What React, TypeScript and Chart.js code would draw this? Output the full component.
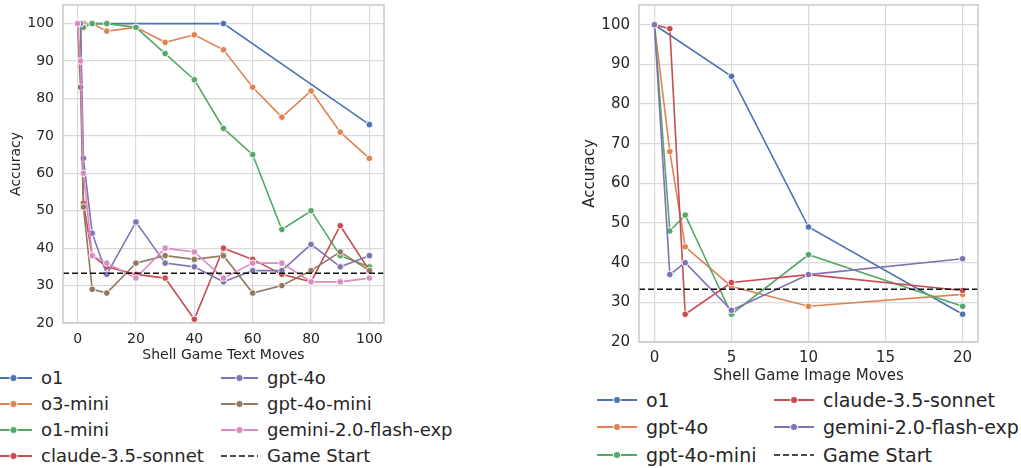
import { useEffect, useRef } from 'react';
import { Chart, registerables } from 'chart.js';

Chart.register(...registerables);

const FONT = '"DejaVu Sans", "Liberation Sans", sans-serif';
const INK = '#262626';
const GRID = '#d9d9d9';
const FRAME = '#cccccc';

const BLUE = '#4c72b0';
const ORANGE = '#dd8452';
const GREEN = '#55a868';
const RED = '#c44e52';
const PURPLE = '#8172b3';
const BROWN = '#937860';
const PINK = '#da8bc3';

// left panel: text moves
const textMoves = [0, 1, 2, 5, 10, 20, 30, 40, 50, 60, 70, 80, 90, 100];
const o1TextMoves = [0, 1, 2, 5, 10, 50, 100];
const o1Text = [100, 100, 100, 100, 100, 100, 73];
const o3MiniText = [100, 100, 100, 100, 98, 99, 95, 97, 93, 83, 75, 82, 71, 64];
const o1MiniText = [100, 100, 99, 100, 100, 99, 92, 85, 72, 65, 45, 50, 38, 35];
const claudeText = [100, 100, 52, 38, 35, 33, 32, 21, 40, 37, 33, 31, 46, 34];
const gpt4oText = [100, 100, 64, 44, 33, 47, 36, 35, 31, 34, 34, 41, 35, 38];
const gpt4oMiniText = [100, 83, 51, 29, 28, 36, 38, 37, 38, 28, 30, 34, 39, 34];
const geminiText = [100, 90, 60, 38, 36, 32, 40, 39, 32, 36, 36, 31, 31, 32];
const textTicks = [0, 20, 40, 60, 80, 100];

// right panel: image moves
const imageMoves = [0, 1, 2, 5, 10, 20];
const o1ImageMoves = [0, 5, 10, 20];
const o1Image = [100, 87, 49, 27];
const gpt4oImage = [100, 68, 44, 34, 29, 32];
const gpt4oMiniImage = [100, 48, 52, 27, 42, 29];
const claudeImage = [100, 99, 27, 35, 37, 33];
const geminiImage = [100, 37, 40, 28, 37, 41];
const imageTicks = [0, 5, 10, 15, 20];

const accuracyTicks = [20, 30, 40, 50, 60, 70, 80, 90, 100];
const gameStart = 33.3;

type Series = { label: string; color: string; x: number[]; y: number[] };

const textSeries: Series[] = [
  { label: 'o1', color: BLUE, x: o1TextMoves, y: o1Text },
  { label: 'o3-mini', color: ORANGE, x: textMoves, y: o3MiniText },
  { label: 'o1-mini', color: GREEN, x: textMoves, y: o1MiniText },
  { label: 'claude-3.5-sonnet', color: RED, x: textMoves, y: claudeText },
  { label: 'gpt-4o', color: PURPLE, x: textMoves, y: gpt4oText },
  { label: 'gpt-4o-mini', color: BROWN, x: textMoves, y: gpt4oMiniText },
  { label: 'gemini-2.0-flash-exp', color: PINK, x: textMoves, y: geminiText },
];

const imageSeries: Series[] = [
  { label: 'o1', color: BLUE, x: o1ImageMoves, y: o1Image },
  { label: 'gpt-4o', color: ORANGE, x: imageMoves, y: gpt4oImage },
  { label: 'gpt-4o-mini', color: GREEN, x: imageMoves, y: gpt4oMiniImage },
  { label: 'claude-3.5-sonnet', color: RED, x: imageMoves, y: claudeImage },
  { label: 'gemini-2.0-flash-exp', color: PURPLE, x: imageMoves, y: geminiImage },
];

const framePlugin = {
  id: 'frame',
  afterDatasetsDraw(chart: Chart) {
    const { ctx, chartArea } = chart;
    ctx.save();
    ctx.strokeStyle = FRAME;
    ctx.lineWidth = 1.6;
    ctx.strokeRect(chartArea.left, chartArea.top, chartArea.right - chartArea.left, chartArea.bottom - chartArea.top);
    ctx.restore();
  },
};

interface PanelProps {
  series: Series[];
  xMin: number;
  xMax: number;
  xTicks: number[];
  xTitle: string;
  fontSize: number;
  left: number;
  width: number;
  height: number;
  yAxisWidth: number;
  xAxisHeight: number;
  padRight: number;
  yPad: number;
  xPad: number;
}

function Panel(p: PanelProps) {
  const canvasRef = useRef<HTMLCanvasElement>(null);
  const chartRef = useRef<Chart | null>(null);

  useEffect(() => {
    if (!canvasRef.current) return;
    if (chartRef.current) chartRef.current.destroy();
    const ctx = canvasRef.current.getContext('2d');
    if (!ctx) return;

    const font = { family: FONT, size: p.fontSize };

    const datasets: any[] = p.series.map((s, i) => ({
      label: s.label,
      data: s.x.map((x, j) => ({ x, y: s.y[j] })),
      borderColor: s.color,
      backgroundColor: s.color,
      borderWidth: 1.6,
      pointRadius: 3.3,
      pointBackgroundColor: s.color,
      pointBorderColor: '#ffffff',
      pointBorderWidth: 0.9,
      order: -i,
    }));
    datasets.push({
      label: 'Game Start',
      data: [{ x: p.xMin, y: gameStart }, { x: p.xMax, y: gameStart }],
      borderColor: '#111111',
      borderDash: [6, 3],
      borderWidth: 1.6,
      pointRadius: 0,
      order: -100,
    });

    chartRef.current = new Chart(ctx, {
      type: 'line',
      data: { datasets },
      options: {
        responsive: false,
        animation: false,
        layout: { padding: { top: 4, right: p.padRight, left: 0, bottom: 0 } },
        plugins: { legend: { display: false }, tooltip: { enabled: false } },
        scales: {
          x: {
            type: 'linear',
            min: p.xMin,
            max: p.xMax,
            afterBuildTicks: (s: any) => { s.ticks = p.xTicks.map((v) => ({ value: v })); },
            afterFit: (s: any) => { s.height = p.xAxisHeight; s.paddingLeft = 0; s.paddingRight = 0; },
            grid: { color: GRID, lineWidth: 1.2, drawTicks: false },
            border: { display: false },
            ticks: { font, color: INK, padding: p.xPad, maxRotation: 0, autoSkip: false },
            title: { display: true, text: p.xTitle, font, color: INK, padding: 0 },
          },
          y: {
            type: 'linear',
            min: 20,
            max: 105,
            afterBuildTicks: (s: any) => { s.ticks = accuracyTicks.map((v) => ({ value: v })); },
            afterFit: (s: any) => { s.width = p.yAxisWidth; s.paddingTop = 0; s.paddingBottom = 0; },
            grid: { color: GRID, lineWidth: 1.2, drawTicks: false },
            border: { display: false },
            ticks: { font, color: INK, padding: p.yPad, autoSkip: false },
            title: { display: true, text: 'Accuracy', font, color: INK, padding: 0 },
          },
        },
      },
      plugins: [framePlugin],
    });

    return () => {
      if (chartRef.current) {
        chartRef.current.destroy();
        chartRef.current = null;
      }
    };
  }, []);

  return (
    <canvas
      ref={canvasRef}
      width={p.width}
      height={p.height}
      style={{ position: 'absolute', left: p.left, top: 0, width: p.width, height: p.height }}
    />
  );
}

interface LegendEntry { label: string; color: string; dashed?: boolean }

function LegendColumn({ items, left, top, rowHeight, fontSize, swatch }: {
  items: LegendEntry[]; left: number; top: number; rowHeight: number; fontSize: number; swatch: number;
}) {
  return (
    <div style={{ position: 'absolute', left, top }}>
      {items.map((it) => (
        <div key={it.label} style={{ display: 'flex', alignItems: 'center', height: rowHeight }}>
          <svg width={swatch} height={12} style={{ marginRight: 9, flex: 'none' }}>
            {it.dashed ? (
              <line x1={0} y1={6} x2={swatch} y2={6} stroke="#111" strokeWidth={1.6} strokeDasharray="6 3" />
            ) : (
              <>
                <line x1={0} y1={6} x2={swatch} y2={6} stroke={it.color} strokeWidth={1.8} />
                <circle cx={swatch / 2} cy={6} r={3.6} fill={it.color} stroke="#fff" strokeWidth={0.9} />
              </>
            )}
          </svg>
          <span style={{ fontFamily: FONT, fontSize, color: INK, whiteSpace: 'nowrap' }}>{it.label}</span>
        </div>
      ))}
    </div>
  );
}

const toEntries = (s: Series[]): LegendEntry[] => s.map((x) => ({ label: x.label, color: x.color }));
const gameStartEntry: LegendEntry = { label: 'Game Start', color: '#111', dashed: true };

export default function App() {
  const textEntries = [...toEntries(textSeries), gameStartEntry];
  const imageEntries = [...toEntries(imageSeries), gameStartEntry];

  return (
    <div style={{ position: 'fixed', left: 0, top: 0, width: 1021, height: 468, background: '#fff', overflow: 'hidden' }}>
      <Panel
        series={textSeries}
        xMin={-5}
        xMax={105}
        xTicks={textTicks}
        xTitle="Shell Game Text Moves"
        fontSize={14}
        left={8}
        width={387}
        height={364}
        yAxisWidth={55}
        xAxisHeight={41}
        padRight={11}
        yPad={9}
        xPad={8}
      />
      <Panel
        series={imageSeries}
        xMin={-1}
        xMax={21}
        xTicks={imageTicks}
        xTitle="Shell Game Image Moves"
        fontSize={15}
        left={581}
        width={409}
        height={385}
        yAxisWidth={58}
        xAxisHeight={43}
        padRight={12}
        yPad={9}
        xPad={7}
      />
      <LegendColumn items={textEntries.slice(0, 4)} left={-5} top={364.6} rowHeight={26.1} fontSize={18} swatch={37} />
      <LegendColumn items={textEntries.slice(4)} left={221} top={364.6} rowHeight={26.1} fontSize={18} swatch={37} />
      <LegendColumn items={imageEntries.slice(0, 3)} left={597} top={386.2} rowHeight={27.5} fontSize={19} swatch={40} />
      <LegendColumn items={imageEntries.slice(3)} left={774} top={386.2} rowHeight={27.5} fontSize={19} swatch={40} />
    </div>
  );
}
